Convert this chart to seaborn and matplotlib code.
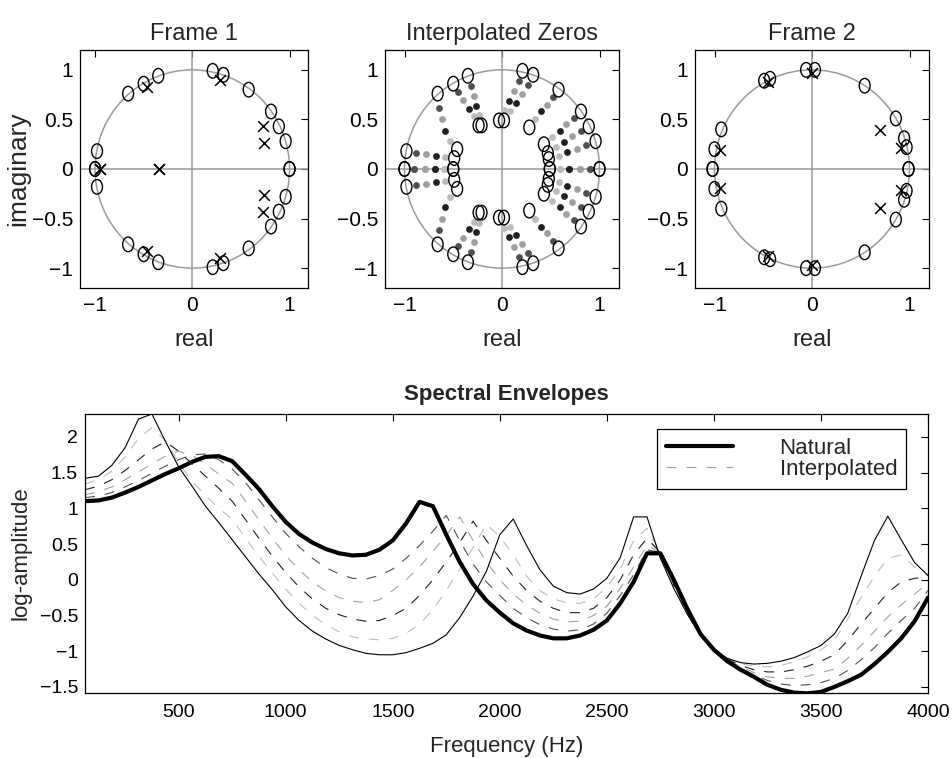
import numpy as np
import pandas as pd
import matplotlib
matplotlib.use("Agg")
import matplotlib.pyplot as plt
from matplotlib.path import Path
from matplotlib.patches import Circle
from matplotlib.lines import Line2D
from matplotlib.ticker import FuncFormatter
import seaborn as sns

# ---- spectral envelopes, sampled every 62.5 Hz ----
freq = np.arange(1, 65) * 62.5

natural = [1.10, 1.11, 1.15, 1.22, 1.30, 1.39, 1.48, 1.56,
           1.65, 1.72, 1.73, 1.66, 1.47, 1.27, 1.03, 0.81,
           0.64, 0.52, 0.43, 0.37, 0.34, 0.35, 0.42, 0.55,
           0.79, 1.09, 1.03, 0.63, 0.25, -0.06, -0.29, -0.46,
           -0.61, -0.71, -0.78, -0.82, -0.82, -0.78, -0.70, -0.57,
           -0.33, -0.03, 0.37, 0.37, 0.00, -0.40, -0.76, -0.98,
           -1.14, -1.26, -1.36, -1.47, -1.54, -1.58, -1.59, -1.57,
           -1.50, -1.42, -1.33, -1.18, -1.01, -0.82, -0.58, -0.25]

frame2 = [1.42, 1.45, 1.60, 1.85, 2.25, 2.32, 1.94, 1.58,
          1.31, 1.03, 0.80, 0.56, 0.32, 0.08, -0.14, -0.38,
          -0.57, -0.72, -0.83, -0.92, -0.98, -1.03, -1.05, -1.05,
          -1.02, -0.96, -0.89, -0.77, -0.53, -0.23, 0.12, 0.63,
          0.85, 0.48, 0.14, -0.09, -0.18, -0.20, -0.13, 0.02,
          0.31, 0.88, 0.88, 0.30, -0.12, -0.48, -0.78, -0.97,
          -1.10, -1.16, -1.18, -1.17, -1.14, -1.09, -1.01, -0.92,
          -0.76, -0.47, 0.05, 0.55, 0.89, 0.56, 0.24, 0.06]

interp1 = [1.15, 1.17, 1.22, 1.30, 1.39, 1.49, 1.59, 1.68,
           1.75, 1.76, 1.68, 1.55, 1.36, 1.12, 0.88, 0.65,
           0.46, 0.30, 0.17, 0.08, 0.02, 0.01, 0.06, 0.15,
           0.30, 0.48, 0.68, 0.90, 0.55, 0.22, -0.03, -0.22,
           -0.40, -0.53, -0.63, -0.69, -0.72, -0.70, -0.62, -0.47,
           -0.22, 0.07, 0.42, 0.38, -0.03, -0.42, -0.77, -0.98,
           -1.13, -1.24, -1.33, -1.41, -1.46, -1.48, -1.47, -1.44,
           -1.38, -1.27, -1.12, -0.95, -0.75, -0.57, -0.40, -0.15]

interp2 = [1.19, 1.23, 1.30, 1.40, 1.51, 1.62, 1.73, 1.80,
           1.74, 1.62, 1.48, 1.35, 1.10, 0.84, 0.58, 0.34,
           0.14, -0.03, -0.16, -0.25, -0.30, -0.32, -0.28, -0.15,
           0.00, 0.18, 0.40, 0.62, 0.88, 0.55, 0.25, 0.00,
           -0.20, -0.35, -0.47, -0.55, -0.59, -0.58, -0.50, -0.37,
           -0.12, 0.18, 0.48, 0.38, -0.06, -0.44, -0.77, -0.98,
           -1.12, -1.22, -1.30, -1.36, -1.38, -1.38, -1.35, -1.30,
           -1.25, -1.10, -0.92, -0.72, -0.52, -0.35, -0.20, -0.05]

interp3 = [1.26, 1.31, 1.40, 1.53, 1.68, 1.83, 1.93, 1.80,
           1.62, 1.45, 1.28, 1.10, 0.84, 0.58, 0.33, 0.10,
           -0.10, -0.27, -0.40, -0.49, -0.55, -0.58, -0.57, -0.50,
           -0.40, -0.22, 0.00, 0.25, 0.52, 0.82, 0.55, 0.30,
           0.05, -0.15, -0.30, -0.40, -0.46, -0.46, -0.40, -0.25,
           0.00, 0.35, 0.58, 0.38, -0.08, -0.45, -0.78, -0.97,
           -1.11, -1.20, -1.26, -1.29, -1.29, -1.26, -1.21, -1.14,
           -1.05, -0.85, -0.62, -0.40, -0.18, -0.03, 0.02, 0.04]

interp4 = [1.34, 1.40, 1.52, 1.72, 1.98, 2.13, 1.95, 1.64,
           1.38, 1.18, 1.00, 0.85, 0.58, 0.33, 0.09, -0.13,
           -0.33, -0.50, -0.63, -0.73, -0.80, -0.83, -0.84, -0.82,
           -0.75, -0.62, -0.42, -0.15, 0.15, 0.45, 0.78, 0.60,
           0.35, 0.05, -0.15, -0.27, -0.32, -0.33, -0.27, -0.10,
           0.15, 0.55, 0.72, 0.38, -0.10, -0.47, -0.78, -0.97,
           -1.10, -1.17, -1.21, -1.22, -1.20, -1.15, -1.08, -0.98,
           -0.85, -0.55, -0.25, 0.05, 0.30, 0.35, 0.18, 0.06]

# ---- zeros / poles, upper half plane (conjugates are mirrored) ----
zeros1_x = [0.21, 0.32, 0.58, 0.81, 0.89, 0.96, 1.00, -0.35, -0.50, -0.66, -0.98, -1.00]
zeros1_y = [0.99, 0.95, 0.80, 0.58, 0.43, 0.28, 0.00, 0.94, 0.86, 0.76, 0.18, 0.00]
poles1_x = [0.28, -0.47, 0.73, 0.74, -0.95, -0.34]
poles1_y = [0.90, 0.83, 0.43, 0.26, 0.00, 0.00]

zeros2_x = [-0.06, 0.03, -0.49, -0.43, 0.54, 0.86, 0.945, 0.97, 0.99, -0.93, -1.00, -1.02]
zeros2_y = [1.00, 1.00, 0.89, 0.91, 0.84, 0.51, 0.31, 0.22, 0.00, 0.40, 0.20, 0.00]
poles2_x = [0.00, -0.45, 0.70, 0.91, -0.945]
poles2_y = [0.97, 0.875, 0.39, 0.21, 0.195]

# middle panel: inner circles and the four interpolation steps
inner_x = [-0.03, 0.02, 0.28, 0.43, 0.47, 0.48, 0.49, -0.21, -0.24, -0.46, -0.49, -0.50]
inner_y = [0.49, 0.49, 0.42, 0.25, 0.16, 0.10, 0.00, 0.44, 0.44, 0.20, 0.11, 0.00]
step_x = [[0.17, 0.27, 0.52, 0.74, 0.81, 0.86, 0.90, -0.32, -0.45, -0.65, -0.88, -0.90],
          [0.12, 0.21, 0.46, 0.66, 0.72, 0.77, 0.80, -0.29, -0.40, -0.62, -0.78, -0.79],
          [0.07, 0.14, 0.40, 0.59, 0.64, 0.67, 0.69, -0.27, -0.34, -0.58, -0.68, -0.69],
          [0.02, 0.08, 0.34, 0.51, 0.55, 0.58, 0.59, -0.24, -0.29, -0.53, -0.58, -0.59]]
step_y = [[0.89, 0.85, 0.73, 0.51, 0.38, 0.24, 0.00, 0.84, 0.78, 0.62, 0.164, 0.00],
          [0.79, 0.76, 0.65, 0.45, 0.33, 0.20, 0.00, 0.74, 0.70, 0.50, 0.151, 0.00],
          [0.69, 0.67, 0.58, 0.38, 0.27, 0.17, 0.00, 0.64, 0.61, 0.38, 0.134, 0.00],
          [0.59, 0.58, 0.50, 0.32, 0.22, 0.13, 0.00, 0.54, 0.53, 0.28, 0.118, 0.00]]

step_colors = ["#505050", "#a0a0a0", "#202020", "#bcbcbc"]
ring = "#9a9a9a"

sns.set_theme(style="white")
plt.rcParams["font.family"] = ["Liberation Sans", "DejaVu Sans"]
plt.rcParams["axes.edgecolor"] = "black"
plt.rcParams["axes.linewidth"] = 0.9

circ = Path.unit_circle()
oval = Path(circ.vertices * [0.75, 1.0], circ.codes)

fmt = FuncFormatter(lambda v, p: f"{v:g}".replace("-", "\u2212"))

fig = plt.figure(figsize=(9.52, 7.58), dpi=100)


def style_axes(ax, size, xpad=5):
    ax.tick_params(direction="in", top=True, right=True, length=5, width=0.8,
                   labelsize=size, colors="black", pad=5)
    ax.tick_params(axis="x", pad=xpad)
    ax.xaxis.set_major_formatter(fmt)
    ax.yaxis.set_major_formatter(fmt)
    for s in ax.spines.values():
        s.set_color("black")


def mirror(v, sign):
    return np.asarray(v) * sign


def zplane(ax, title, xlim):
    ax.add_patch(Circle((0, 0), 1, fill=False, color=ring, lw=1.1, zorder=1))
    ax.axhline(0, color=ring, lw=1.1, zorder=1)
    ax.axvline(0, color=ring, lw=1.1, zorder=1)
    ax.set_xlim(*xlim)
    ax.set_ylim(-1.2, 1.2)
    ax.set_xticks([-1, 0, 1])
    ax.set_yticks([-1, -0.5, 0, 0.5, 1])
    ax.set_title(title, fontsize=17, pad=7)
    ax.set_xlabel("real", fontsize=17, labelpad=10)
    style_axes(ax, 15, xpad=6)


def draw_zeros(ax, zx, zy):
    sns.scatterplot(x=np.concatenate([zx, zx]), y=np.concatenate([zy, mirror(zy, -1)]),
                    ax=ax, marker=oval, s=110, color="black", facecolor="none",
                    edgecolor="black", linewidth=1.0, zorder=4)


def draw_poles(ax, px, py):
    sns.scatterplot(x=np.concatenate([px, px]), y=np.concatenate([py, mirror(py, -1)]),
                    ax=ax, marker="x", s=60, color="black", linewidth=1.1, zorder=4)


tops = [fig.add_axes([80 / 952, 1 - 288 / 758, 228 / 952, 238 / 758]),
        fig.add_axes([385 / 952, 1 - 288 / 758, 234 / 952, 238 / 758]),
        fig.add_axes([695 / 952, 1 - 288 / 758, 234 / 952, 238 / 758])]

# Frame 1
zplane(tops[0], "Frame 1", (-1.155, 1.19))
draw_zeros(tops[0], zeros1_x, zeros1_y)
draw_poles(tops[0], poles1_x, poles1_y)
tops[0].set_ylabel("imaginary", fontsize=19, labelpad=1)

# Interpolated zeros
zplane(tops[1], "Interpolated Zeros", (-1.2, 1.2))
for k in range(4):
    sx, sy = step_x[k], step_y[k]
    sns.scatterplot(x=np.concatenate([sx, sx]), y=np.concatenate([sy, mirror(sy, -1)]),
                    ax=tops[1], marker="o", s=24, color=step_colors[k],
                    linewidth=0, zorder=3)
draw_zeros(tops[1], zeros1_x, zeros1_y)
draw_zeros(tops[1], inner_x, inner_y)

# Frame 2
zplane(tops[2], "Frame 2", (-1.2, 1.2))
draw_zeros(tops[2], zeros2_x, zeros2_y)
draw_poles(tops[2], poles2_x, poles2_y)

# Spectral envelopes
ax = fig.add_axes([85 / 952, 1 - 693 / 758, 843 / 952, 279 / 758])
dash = (0, (9, 9))
for vals, col in zip([interp1, interp2, interp3, interp4], step_colors):
    sns.lineplot(x=freq, y=vals, ax=ax, color=col, lw=0.8, linestyle=dash)
sns.lineplot(x=freq, y=frame2, ax=ax, color="black", lw=0.8)
sns.lineplot(x=freq, y=natural, ax=ax, color="black", lw=3.0)
ax.set_xlim(62.5, 4000)
ax.set_ylim(-1.585, 2.32)
ax.set_xticks(np.arange(500, 4001, 500))
ax.set_yticks(np.arange(-1.5, 2.01, 0.5))
style_axes(ax, 14, xpad=8)
ax.set_title("Spectral Envelopes", fontsize=16, fontweight="bold", pad=10)
ax.set_xlabel("Frequency (Hz)", fontsize=16, labelpad=11)
ax.set_ylabel("log-amplitude", fontsize=16, labelpad=6)

handles = [Line2D([], [], color="black", lw=3.0),
           Line2D([], [], color="#a0a0a0", lw=0.8, linestyle=dash)]
leg = ax.legend(handles, ["Natural", "Interpolated"], loc="upper right",
                bbox_to_anchor=(0.974, 0.946), fontsize=16, frameon=True,
                fancybox=False, framealpha=1, edgecolor="black",
                handlelength=3.0, handletextpad=2.1, labelspacing=0.0,
                borderpad=0.4, borderaxespad=0)
leg.get_frame().set_linewidth(0.9)

fig.savefig("out.png", dpi=100)
